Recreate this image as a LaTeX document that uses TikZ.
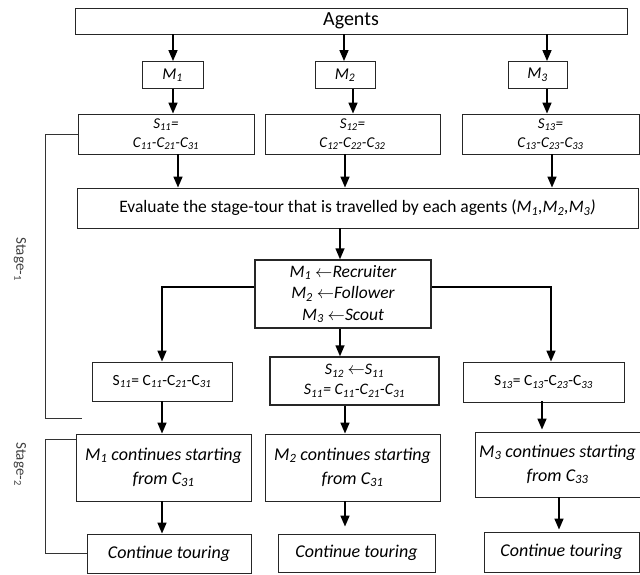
\documentclass[tikz,border=0pt]{standalone}
\usepackage{fontspec}
\setmainfont{Carlito}
\usetikzlibrary{arrows.meta,calc}
\newcommand{\sub}[1]{\textsubscript{#1}}
\begin{document}
\begin{tikzpicture}[x=1pt,y=-1pt,
  box/.style={draw=black!85,line width=0.9pt,inner sep=0pt,align=center,font=\fontsize{15.5}{19}\selectfont},
  thickbox/.style={box,line width=1.5pt},
  arr/.style={line width=1.5pt,-{Triangle[length=11pt,width=9pt]}},
  brk/.style={line width=1pt,draw=black!80},
  stagelbl/.style={rotate=-90,font=\fontsize{15}{18}\selectfont,text=black!75}]
\useasboundingbox (0,0) rectangle (640,574);
% columns
\coordinate (a1) at (173,0); \coordinate (a2) at (344,0); \coordinate (a3) at (547,0);
\coordinate (b1) at (173,0); \coordinate (b2) at (353,0); \coordinate (b3) at (547,0);
\coordinate (c1) at (178,0); \coordinate (c2) at (345,0); \coordinate (c3) at (552,0);
\coordinate (d) at (340,0);
\coordinate (e1) at (162,0); \coordinate (e3) at (551,0);
\coordinate (f1) at (162,0); \coordinate (f2) at (345,0); \coordinate (f3) at (542,0);
\coordinate (g1) at (162,0); \coordinate (g2) at (345,0); \coordinate (g3) at (559,0);
% nodes
\node[box,minimum width=552pt,minimum height=26pt,font=\fontsize{20}{22}\selectfont] (agents) at (351,21) {Agents};
\node[box,minimum width=61pt,minimum height=27pt,font=\fontsize{16.5}{18}\selectfont\itshape] (M1) at (172.5,75) {M\sub{1}};
\node[box,minimum width=60pt,minimum height=27pt,font=\fontsize{16.5}{18}\selectfont\itshape] (M2) at (345,75) {M\sub{2}};
\node[box,minimum width=59pt,minimum height=27pt,font=\fontsize{16.5}{18}\selectfont\itshape] (M3) at (537.5,75) {M\sub{3}};
\node[box,minimum width=176pt,minimum height=40pt,font=\fontsize{15}{19}\selectfont\itshape] (S11) at (166,134) {S\sub{11}=\\C\sub{11}-C\sub{21}-C\sub{31}};
\node[box,minimum width=175pt,minimum height=40pt,font=\fontsize{15}{19}\selectfont\itshape] (S12) at (352.5,134) {S\sub{12}=\\C\sub{12}-C\sub{22}-C\sub{32}};
\node[box,minimum width=177pt,minimum height=40pt,font=\fontsize{15}{19}\selectfont\itshape] (S13) at (550.5,134) {S\sub{13}=\\C\sub{13}-C\sub{23}-C\sub{33}};
\node[box,minimum width=561pt,minimum height=40pt,font=\fontsize{17.5}{20}\selectfont] (eval) at (357.5,208) {Evaluate the stage-tour that is travelled by each agents (\textit{M\sub{1},M\sub{2},M\sub{3})}};
\node[thickbox,minimum width=176pt,minimum height=68pt,font=\fontsize{17.5}{21.5}\selectfont\itshape] (role) at (343,294) {M\sub{1} $\leftarrow$Recruiter\\M\sub{2} $\leftarrow$Follower\\M\sub{3} $\leftarrow$Scout};
\node[box,minimum width=140pt,minimum height=39pt] (B1) at (162,381.5) {S\sub{\itshape 11}= C\sub{\itshape 11}-C\sub{\itshape 21}-C\sub{\itshape 31}};
\node[thickbox,minimum width=169pt,minimum height=48pt,font=\fontsize{16}{20}\selectfont\itshape] (B2) at (354.5,381) {S\sub{12} $\leftarrow$S\sub{11}\\S\sub{11}= C\sub{11}-C\sub{21}-C\sub{31}};
\node[box,minimum width=161pt,minimum height=40pt] (B3) at (543.5,382) {S\sub{\itshape 13}= C\sub{\itshape 13}-C\sub{\itshape 23}-C\sub{\itshape 33}};
\node[box,minimum width=175pt,minimum height=67pt,font=\fontsize{18}{24}\selectfont\itshape] (MC1) at (163.5,467.5) {M\sub{1} continues starting\\from C\sub{31}};
\node[box,minimum width=175pt,minimum height=67pt,font=\fontsize{18}{24}\selectfont\itshape] (MC2) at (352.5,467.5) {M\sub{2} continues starting\\from C\sub{31}};
\node[box,minimum width=165pt,minimum height=65pt,font=\fontsize{18}{24}\selectfont\itshape] (MC3) at (557.5,464.5) {M\sub{3} continues starting\\from C\sub{33}};
\node[box,minimum width=164pt,minimum height=39pt,font=\fontsize{18}{20}\selectfont\itshape] (CT1) at (169,553.5) {Continue touring};
\node[box,minimum width=157pt,minimum height=38pt,font=\fontsize{18}{20}\selectfont\itshape] (CT2) at (356.5,553) {Continue touring};
\node[box,minimum width=155pt,minimum height=40pt,font=\fontsize{18}{20}\selectfont\itshape] (CT3) at (561.5,552) {Continue touring};
% arrows
\draw[arr] (agents.south -| a1) -- (M1.north -| a1);
\draw[arr] (agents.south -| a2) -- (M2.north -| a2);
\draw[arr] (agents.south -| a3) -- (M3.north -| a3);
\draw[arr] (M1.south -| b1) -- (S11.north -| b1);
\draw[arr] (M2.south -| b2) -- (S12.north -| b2);
\draw[arr] (M3.south -| b3) -- (S13.north -| b3);
\draw[arr] (S11.south -| c1) -- (eval.north -| c1);
\draw[arr] (S12.south -| c2) -- (eval.north -| c2);
\draw[arr] (S13.south -| c3) -- (eval.north -| c3);
\draw[arr] (eval.south -| d) -- (role.north -| d);
\draw[arr] ([yshift=7pt]role.west) -| (B1.north -| e1);
\draw[arr] ([yshift=7pt]role.east) -| (B3.north -| e3);
\draw[arr] (role.south -| d) -- (B2.north -| d);
\draw[arr] (B1.south -| f1) -- (MC1.north -| f1);
\draw[arr] (B2.south -| f2) -- (MC2.north -| f2);
\draw[arr] ([yshift=1pt]B3.south -| f3) -- ([yshift=2pt]MC3.north -| f3);
\draw[arr] (MC1.south -| g1) -- (CT1.north -| g1);
\draw[arr] (MC2.south -| g2) -- ([yshift=7pt]CT2.north -| g2);
\draw[arr] (MC3.south -| g3) -- ([yshift=2pt]CT3.north -| g3);
% stage brackets
\coordinate (s1end) at (82,418);
\coordinate (bx) at (45,0);
\draw[brk] (S11.west) -- (S11.west -| bx) -- (s1end -| bx) -- (s1end);
\coordinate (s2top) at ([yshift=-6pt]MC1.north west);
\draw[brk] (s2top) -- (s2top -| bx) -- (CT1.west -| bx) -- (CT1.west);
\node[stagelbl] (st1) at (20,259) {Stage-\sub{1}};
\node[stagelbl] (st2) at (20,464) {Stage-\sub{2}};
\end{tikzpicture}
\end{document}
